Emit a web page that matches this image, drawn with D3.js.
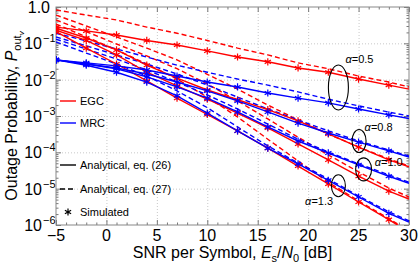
<!DOCTYPE html>
<html>
<head>
<meta charset="utf-8">
<script src="https://cdnjs.cloudflare.com/ajax/libs/d3/7.8.5/d3.min.js"></script>
<style>
body { margin: 0; background: #fff; }
svg { display: block; font-family: "Liberation Sans", Arial, sans-serif; }
.grid line { stroke: #c8c8c8; stroke-dasharray: 1,2; }
.grid path { display: none; }
.ax path { display: none; }
.ax line { stroke: #777; }
</style>
</head>
<body>
<script>
// SNR points of the analytical curves and of the simulated markers (dB)
var snr = [-5, -2, 1, 4, 7, 10, 13, 16, 19, 22, 25, 28, 30];
var simSnr = [-5, -2, 1, 4, 7, 10, 13, 16, 19, 22, 25, 28];

// EGC, analytical eq. (26)
var egc05 = [0.28, 0.22, 0.17, 0.12, 0.090, 0.062, 0.042, 0.031, 0.021, 0.016, 0.0104, 0.0071, 0.0055];
var egc08 = [0.26, 0.14, 0.066, 0.025, 0.011, 0.0052, 0.0028, 0.0015, 7.3e-4, 3.2e-4, 1.4e-4, 6.2e-5, 4.0e-5];
var egc10 = [0.23, 0.12, 0.048, 0.016, 0.0067, 0.0029, 0.0012, 4.7e-4, 1.7e-4, 6.2e-5, 2.2e-5, 8.6e-6, 5.2e-6];
var egc13 = [0.21, 0.074, 0.027, 0.0092, 0.0031, 0.0011, 3.9e-4, 1.3e-4, 4.2e-5, 1.35e-5, 4.3e-6, 1.4e-6, 6.4e-7];
// EGC, analytical eq. (27)
var egc05b = [0.83, 0.60, 0.44, 0.28, 0.19, 0.12, 0.074, 0.048, 0.029, 0.020, 0.0126, 0.0086, 0.0063];
var egc08b = [0.60, 0.30, 0.15, 0.074, 0.035, 0.014, 0.0055, 0.0020, 7.8e-4, 3.2e-4, 1.4e-4, 6.6e-5, 4.2e-5];
var egc10b = [0.44, 0.21, 0.096, 0.045, 0.020, 0.0076, 0.0026, 8.3e-4, 2.6e-4, 8.5e-5, 2.9e-5, 1.04e-5, 5.9e-6];
var egc13b = [0.34, 0.15, 0.066, 0.027, 0.0104, 0.0033, 9.4e-4, 2.3e-4, 5.8e-5, 1.5e-5, 4.6e-6, 1.5e-6, 6.8e-7];

// MRC, analytical eq. (26)
var mrc05 = [0.035, 0.029, 0.024, 0.0185, 0.0126, 0.0086, 0.0063, 0.0043, 0.0031, 0.0023, 0.00156, 0.00107, 8.5e-4];
var mrc08 = [0.035, 0.027, 0.021, 0.0143, 0.0086, 0.0049, 0.0026, 0.0013, 6.4e-4, 3.4e-4, 1.9e-4, 1.1e-4, 7.4e-5];
var mrc10 = [0.035, 0.027, 0.020, 0.0119, 0.0063, 0.0031, 0.0013, 5.0e-4, 2.05e-4, 9.6e-5, 4.5e-5, 2.2e-5, 1.4e-5];
var mrc13 = [0.035, 0.025, 0.016, 0.0086, 0.0036, 0.0012, 3.9e-4, 1.3e-4, 4.8e-5, 1.7e-5, 5.9e-6, 2.1e-6, 1.2e-6];
// MRC, analytical eq. (27)
var mrc05b = [0.19, 0.116, 0.070, 0.042, 0.025, 0.016, 0.0104, 0.0071, 0.0046, 0.0029, 0.0019, 0.00128, 0.0010];
var mrc08b = [0.15, 0.085, 0.048, 0.027, 0.0143, 0.0071, 0.0033, 0.00156, 7.8e-4, 3.9e-4, 2.05e-4, 1.16e-4, 7.9e-5];
var mrc10b = [0.13, 0.070, 0.037, 0.0185, 0.0086, 0.0038, 0.00156, 6.0e-4, 2.3e-4, 1.02e-4, 4.8e-5, 2.4e-5, 1.5e-5];
var mrc13b = [0.109, 0.054, 0.027, 0.0126, 0.0049, 0.0017, 5.0e-4, 1.5e-4, 5.1e-5, 1.85e-5, 6.3e-6, 2.3e-6, 1.3e-6];

// simulated points (they sit on eq. (26))
var egcSim = [egc05, egc08, egc10, egc13];
var mrcSim = [mrc05, mrc08, mrc10, mrc13];

var xTicks = [-5, 0, 5, 10, 15, 20, 25, 30];
var yTicks = [1, 1e-1, 1e-2, 1e-3, 1e-4, 1e-5, 1e-6];

// alpha annotations: ellipse centre (snr, P), label anchor (snr, P)
var alphaNames = ["0.5", "0.8", "1.0", "1.3"];
var ellSnr = [23, 25.05, 25.5, 23];
var ellP = [6.1e-3, 2.05e-4, 3.4e-5, 1.2e-5];
var ellR = [[10, 22.5], [7, 11.5], [8, 11.5], [7, 11]];
var labSnr = [23.7, 25.6, 26.6, 19.7];
var labP = [2.9e-2, 3.9e-4, 4.2e-5, 3.5e-6];

var red = "#ff0000", blue = "#0000ff";

var margin = {top: 7, right: 9, bottom: 39, left: 56},
    width = 418 - margin.left - margin.right,
    height = 264 - margin.top - margin.bottom;

var svg = d3.select("body").append("svg")
    .attr("width", 418)
    .attr("height", 264)
  .append("g")
    .attr("transform", "translate(" + margin.left + "," + margin.top + ")");

var x = d3.scaleLinear().domain([-5, 30]).range([0, width]);
var y = d3.scaleLog().domain([1e-6, 1]).range([height, 0]);

svg.append("clipPath").attr("id", "clip")
  .append("rect").attr("width", width).attr("height", height);

// grid
svg.append("g").attr("class", "grid")
    .attr("transform", "translate(0," + height + ")")
    .call(d3.axisBottom(x).tickValues(xTicks.slice(1, -1)).tickSize(-height).tickFormat(""));
svg.append("g").attr("class", "grid")
    .call(d3.axisLeft(y).tickValues(yTicks.slice(1, -1)).tickSize(-width).tickFormat(""));

// minor y ticks (2..9 in every decade)
var yMinor = [];
yTicks.slice(1).forEach(function(t) {
  for (var k = 2; k < 10; k++) yMinor.push(t * k);
});
var xMinor = d3.range(-5, 31, 1).filter(function(v) { return v % 5 !== 0; });

// inward ticks on all four sides
svg.append("g").attr("class", "ax").attr("transform", "translate(0," + height + ")")
    .call(d3.axisBottom(x).tickValues(xTicks).tickSize(-5).tickFormat(""));
svg.append("g").attr("class", "ax").attr("transform", "translate(0," + height + ")")
    .call(d3.axisBottom(x).tickValues(xMinor).tickSize(-2.5).tickFormat(""));
svg.append("g").attr("class", "ax")
    .call(d3.axisTop(x).tickValues(xTicks).tickSize(-5).tickFormat(""));
svg.append("g").attr("class", "ax")
    .call(d3.axisTop(x).tickValues(xMinor).tickSize(-2.5).tickFormat(""));
svg.append("g").attr("class", "ax")
    .call(d3.axisLeft(y).tickValues(yTicks).tickSize(-5).tickFormat(""));
svg.append("g").attr("class", "ax")
    .call(d3.axisLeft(y).tickValues(yMinor).tickSize(-2.5).tickFormat(""));
svg.append("g").attr("class", "ax").attr("transform", "translate(" + width + ",0)")
    .call(d3.axisRight(y).tickValues(yTicks).tickSize(-5).tickFormat(""));
svg.append("g").attr("class", "ax").attr("transform", "translate(" + width + ",0)")
    .call(d3.axisRight(y).tickValues(yMinor).tickSize(-2.5).tickFormat(""));

// tick labels
svg.selectAll(".xlab").data(xTicks).enter().append("text")
    .attr("x", function(d) { return x(d); })
    .attr("y", height + 16)
    .attr("text-anchor", "middle")
    .style("font-size", "16px")
    .text(function(d) { return d < 0 ? "\u2212" + (-d) : d; });

yTicks.forEach(function(t) {
  var e = Math.round(Math.log10(t));
  if (e === 0) {
    svg.append("text").attr("x", -6).attr("y", y(t) + 6)
       .attr("text-anchor", "end").style("font-size", "16px").text("1.0");
  } else {
    svg.append("text").attr("x", -14).attr("y", y(t) + 6)
       .attr("text-anchor", "end").style("font-size", "16px").text("10");
    svg.append("text").attr("x", -13).attr("y", y(t) - 1)
       .style("font-size", "11px").text("\u2212" + (-e));
  }
});

// frame
svg.append("rect").attr("width", width).attr("height", height)
    .attr("fill", "none").attr("stroke", "#888").attr("stroke-width", 1);

// curves
var line = d3.line()
    .x(function(d) { return x(d[0]); })
    .y(function(d) { return y(d[1]); });

var curves = [
  {v: egc05b, c: red, dash: true}, {v: egc08b, c: red, dash: true},
  {v: egc10b, c: red, dash: true}, {v: egc13b, c: red, dash: true},
  {v: mrc05b, c: blue, dash: true}, {v: mrc08b, c: blue, dash: true},
  {v: mrc10b, c: blue, dash: true}, {v: mrc13b, c: blue, dash: true},
  {v: egc05, c: red}, {v: egc08, c: red}, {v: egc10, c: red}, {v: egc13, c: red},
  {v: mrc05, c: blue}, {v: mrc08, c: blue}, {v: mrc10, c: blue}, {v: mrc13, c: blue}
];

var plot = svg.append("g").attr("clip-path", "url(#clip)");

plot.selectAll(".curve").data(curves).enter().append("path")
    .attr("class", "curve")
    .attr("fill", "none")
    .attr("stroke", function(d) { return d.c; })
    .attr("stroke-width", 1.4)
    .attr("stroke-dasharray", function(d) { return d.dash ? "5,3" : null; })
    .attr("d", function(d) { return line(d3.zip(snr, d.v)); });

// simulated markers
var star = d3.symbol().type(d3.symbolAsterisk).size(36);
function drawSim(sets, col) {
  sets.forEach(function(s) {
    plot.selectAll(null).data(simSnr.map(function(v, i) { return [v, s[i]]; }))
      .enter().append("path")
      .attr("d", star)
      .attr("transform", function(d) { return "translate(" + x(d[0]) + "," + y(d[1]) + ")"; })
      .attr("fill", "none").attr("stroke", col).attr("stroke-width", 1.2);
  });
}
drawSim(egcSim, red);
drawSim(mrcSim, blue);

// alpha annotations
alphaNames.forEach(function(a, i) {
  svg.append("ellipse")
    .attr("cx", x(ellSnr[i])).attr("cy", y(ellP[i]))
    .attr("rx", ellR[i][0]).attr("ry", ellR[i][1])
    .attr("fill", "none").attr("stroke", "#000").attr("stroke-width", 1.1);
  var t = svg.append("text")
    .attr("x", x(labSnr[i])).attr("y", y(labP[i]))
    .style("font-size", "11px");
  t.append("tspan").style("font-style", "italic").text("\u03b1");
  t.append("tspan").text("=" + a);
});

// legend
var leg = svg.append("g").attr("transform", "translate(4,0)");
var legRows = [
  {label: "EGC", c: red, y: 94},
  {label: "MRC", c: blue, y: 116},
  {label: "Analytical, eq. (26)", c: "#000", y: 158},
  {label: "Analytical, eq. (27)", c: "#000", y: 182, dash: true}
];
legRows.forEach(function(r) {
  leg.append("line").attr("x1", 0).attr("x2", 16).attr("y1", r.y).attr("y2", r.y)
     .attr("stroke", r.c).attr("stroke-width", 1.4)
     .attr("stroke-dasharray", r.dash ? "5,3" : null);
  leg.append("text").attr("x", 20).attr("y", r.y + 4).style("font-size", "11px").text(r.label);
});
leg.append("path").attr("d", star).attr("transform", "translate(8,205)")
   .attr("fill", "none").attr("stroke", "#000").attr("stroke-width", 1.2);
leg.append("text").attr("x", 20).attr("y", 209).style("font-size", "11px").text("Simulated");

// axis titles
var xt = svg.append("text")
    .attr("x", width / 2).attr("y", height + 33)
    .attr("text-anchor", "middle").style("font-size", "16px");
xt.append("tspan").text("SNR per Symbol, ");
xt.append("tspan").style("font-style", "italic").text("E");
xt.append("tspan").attr("dy", 4).style("font-size", "11px").text("s");
xt.append("tspan").attr("dy", -4).text("/");
xt.append("tspan").style("font-style", "italic").text("N");
xt.append("tspan").attr("dy", 4).style("font-size", "11px").text("0");
xt.append("tspan").attr("dy", -4).text(" [dB]");

var yt = svg.append("text")
    .attr("transform", "translate(" + (-39) + "," + (height / 2) + ")rotate(-90)")
    .attr("text-anchor", "middle").style("font-size", "16px");
yt.append("tspan").text("Outage Probability, ");
yt.append("tspan").style("font-style", "italic").text("P");
yt.append("tspan").attr("dy", 4).style("font-size", "11px").text("out");
yt.append("tspan").attr("dy", 3).style("font-size", "8px").style("font-style", "italic").text("v");
</script>
</body>
</html>
